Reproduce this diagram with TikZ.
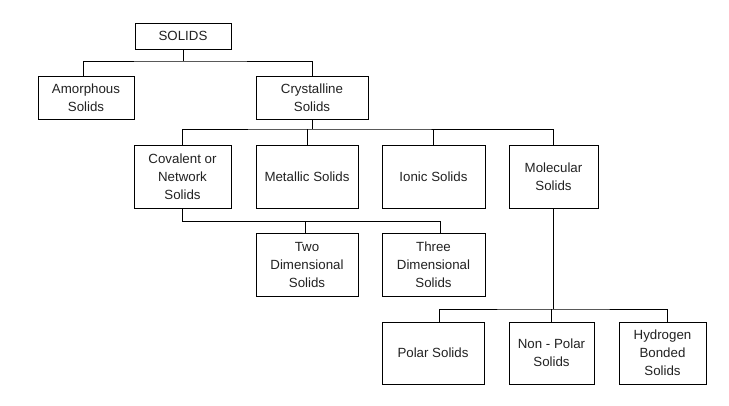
\documentclass[tikz,border=0pt]{standalone}
\usepackage{fontspec}
\setmainfont{Liberation Sans}
\definecolor{txt}{HTML}{222222}
\begin{document}
\begin{tikzpicture}[x=1pt,y=-1pt,
  box/.style={draw=black, line width=1pt, rectangle, inner sep=0pt, align=center,
    text=txt, font=\fontsize{13.3}{18}\selectfont},
  link/.style={draw=black, line width=1pt}]
\useasboundingbox (0,0) rectangle (729,405);
\fill[white] (0,0) rectangle (729,405);
\node[box, minimum width=96pt, minimum height=26pt] (solids) at (183,36) {SOLIDS};
\node[box, minimum width=96pt, minimum height=43pt] (amorph) at (86,97.5) {Amorphous\\Solids};
\node[box, minimum width=112pt, minimum height=43pt] (cryst) at (312,97.5) {Crystalline\\Solids};
\node[box, minimum width=97pt, minimum height=63pt] (cov) at (182.5,176.5) {Covalent or\\Network\\Solids};
\node[box, minimum width=102pt, minimum height=63pt] (met) at (307,176.5) {Metallic Solids};
\node[box, minimum width=103pt, minimum height=63pt] (ion) at (433.5,176.5) {Ionic Solids};
\node[box, minimum width=89pt, minimum height=63pt] (mol) at (553.5,176.5) {Molecular\\Solids};
\node[box, minimum width=102pt, minimum height=63pt] (two) at (307,264.5) {Two\\Dimensional\\Solids};
\node[box, minimum width=103pt, minimum height=63pt] (three) at (433.5,264.5) {Three\\Dimensional\\Solids};
\node[box, minimum width=102pt, minimum height=62pt] (polar) at (433,353) {Polar Solids};
\node[box, minimum width=85pt, minimum height=62pt] (nonpolar) at (551.5,353) {Non - Polar\\Solids};
\node[box, minimum width=87pt, minimum height=62pt] (hydro) at (662.5,353) {Hydrogen\\Bonded\\Solids};
% SOLIDS branches
\coordinate (j1) at (183,61);
\draw[link] (solids.south) -- (j1);
\draw[link] ([xshift=-3pt]amorph.north) |- (j1) -| (cryst.north);
% Crystalline branches
\coordinate (j2) at (312,129);
\draw[link] (cryst.south) -- (j2);
\draw[link] (cov.north) |- (j2) -| (mol.north);
\draw[link] (met.north) -- (met.north |- j2);
\draw[link] (ion.north) -- (ion.north |- j2);
% Covalent branches
\coordinate (j3) at (182.5,221);
\draw[link] (cov.south) -- (j3) -| ([xshift=6.5pt]three.north);
\draw[link] ([xshift=-2pt]two.north) -- ([xshift=-2pt]two.north |- j3);
% Molecular branches
\coordinate (j4) at (553.5,309);
\draw[link] (mol.south) -- (j4);
\draw[link] ([xshift=6pt]polar.north) |- (j4) -| ([xshift=4.5pt]hydro.north);
\draw[link] (nonpolar.north) -- (nonpolar.north |- j4);
\end{tikzpicture}
\end{document}
